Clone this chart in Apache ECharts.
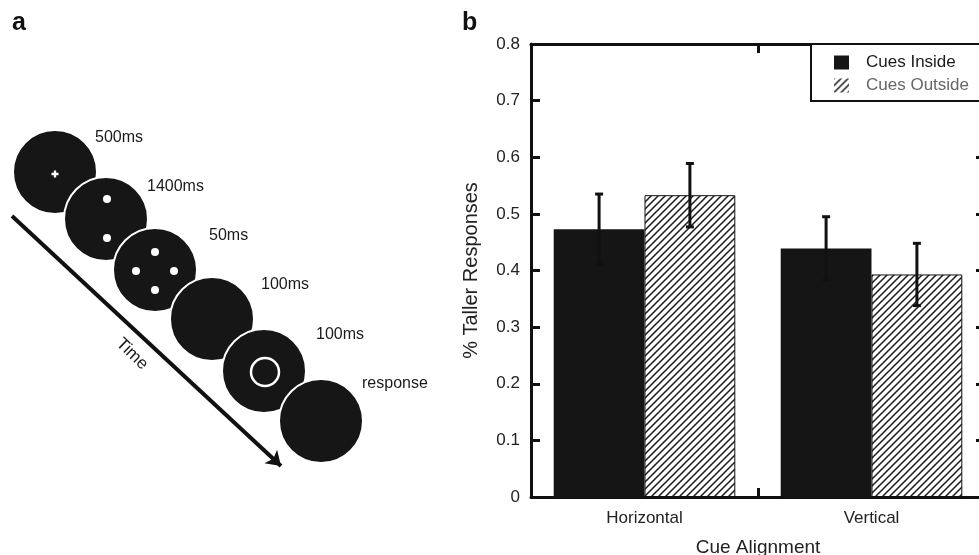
<!DOCTYPE html>
<html>
<head>
<meta charset="utf-8">
<script src="https://cdn.jsdelivr.net/npm/echarts@6/dist/echarts.min.js"></script>
<style>
  html, body { margin: 0; padding: 0; background: #fff; }
  #main { width: 979px; height: 555px; }
</style>
</head>
<body>
<div id="main"></div>
<script>
// panel b data
const categories = ['Horizontal', 'Vertical']
const insideValues = [0.473, 0.439]
const outsideValues = [0.533, 0.393]
const insideErr = [0.062, 0.056]
const outsideErr = [0.056, 0.055]
const yTicks = [0, 0.1, 0.2, 0.3, 0.4, 0.5, 0.6, 0.7, 0.8]

// panel a (trial sequence diagram, in picture units)
const frameX = [55, 106, 155, 212, 264, 321]
const frameY = [172, 219, 270, 319, 371, 421]
const frameText = ['500ms', '1400ms', '50ms', '100ms', '100ms', 'response']
const frameTextX = [95, 147, 209, 261, 316, 362]
const frameTextY = [138, 187, 236, 285, 335, 384]
const fixationPt = [[55, 174]]
const cueDots = [[107, 199], [107, 238], [155, 252], [136, 271], [174, 271], [155, 290]]
const targetRing = [[265, 372]]
const timeArrow = [[12, 216], [281, 466]]
const timeLabelPt = [[132, 354]]

const FONT = "'Liberation Sans', Arial, Helvetica, sans-serif"

// diagonal hatch
function makeHatch() {
  const c = document.createElement('canvas')
  c.width = 7
  c.height = 7
  const ctx = c.getContext('2d')
  ctx.fillStyle = '#fff'
  ctx.fillRect(0, 0, 7, 7)
  ctx.strokeStyle = '#1a1a1a'
  ctx.lineWidth = 1.5
  ctx.beginPath()
  ctx.moveTo(-1, 8); ctx.lineTo(8, -1)
  ctx.moveTo(-1, 1); ctx.lineTo(1, -1)
  ctx.moveTo(6, 8); ctx.lineTo(8, 6)
  ctx.stroke()
  return c
}
const hatch = { image: makeHatch(), repeat: 'repeat' }

const errData = []
insideValues.forEach((v, i) => errData.push([i, v - insideErr[i], v + insideErr[i], 0]))
outsideValues.forEach((v, i) => errData.push([i, v - outsideErr[i], v + outsideErr[i], 1]))

const chart = echarts.init(document.getElementById('main'))

const axisLine = { show: true, onZero: false, lineStyle: { color: '#111', width: 3 } }
const axisTick = { show: true, inside: true, length: 9, lineStyle: { color: '#111', width: 3 } }
const hiddenAxis = { show: false }
const panelText = { show: true, position: [0, 0], verticalAlign: 'middle', color: '#1a1a1a' }

chart.setOption({
  animation: false,
  textStyle: { fontFamily: FONT },
  title: [
    { text: 'a', left: 12, top: 11, padding: 0, textStyle: { fontFamily: FONT, fontSize: 25, fontWeight: 'bold', color: '#111' } },
    { text: 'b', left: 462, top: 11, padding: 0, textStyle: { fontFamily: FONT, fontSize: 25, fontWeight: 'bold', color: '#111' } }
  ],
  legend: {
    orient: 'vertical',
    left: 811,
    top: 44,
    padding: [10, 40, 7, 23],
    borderColor: '#111',
    borderWidth: 2,
    backgroundColor: '#fff',
    itemWidth: 15,
    itemHeight: 14,
    itemGap: 6,
    icon: 'rect',
    textStyle: { fontFamily: FONT, fontSize: 17, color: '#1a1a1a', padding: [0, 0, 0, 12] },
    data: [
      { name: 'Cues Inside' },
      { name: 'Cues Outside', itemStyle: { borderWidth: 0 }, textStyle: { color: '#666' } }
    ]
  },
  grid: [
    { left: 531, top: 44, width: 454, height: 453, outerBoundsMode: 'none', containLabel: false },
    { left: 0, top: 0, width: 460, height: 555, outerBoundsMode: 'none', containLabel: false }
  ],
  xAxis: [
    {
      type: 'category', gridIndex: 0, data: categories,
      axisLine, axisTick,
      axisLabel: { fontSize: 17, color: '#222', margin: 13 },
      name: 'Cue Alignment', nameLocation: 'middle', nameGap: 41,
      nameTextStyle: { fontSize: 19, color: '#222' }
    },
    {
      type: 'category', gridIndex: 0, data: categories, position: 'top',
      axisLine, axisTick, axisLabel: { show: false }
    },
    { type: 'value', gridIndex: 1, min: 0, max: 460, ...hiddenAxis }
  ],
  yAxis: [
    {
      type: 'value', gridIndex: 0, min: yTicks[0], max: yTicks[yTicks.length - 1], interval: 0.1,
      axisLine, axisTick, splitLine: { show: false },
      axisLabel: { fontSize: 17, color: '#222', margin: 11 },
      name: '% Taller Responses', nameLocation: 'middle', nameGap: 50,
      nameTextStyle: { fontSize: 20, color: '#222' }
    },
    {
      type: 'value', gridIndex: 0, position: 'right', min: 0, max: 0.8, interval: 0.1,
      axisLine, axisTick, splitLine: { show: false }, axisLabel: { show: false }
    },
    { type: 'value', gridIndex: 1, min: 0, max: 555, inverse: true, ...hiddenAxis }
  ],
  series: [
    {
      name: 'Cues Inside', type: 'bar', xAxisIndex: 0, yAxisIndex: 0,
      data: insideValues, barWidth: '40%', barGap: '0%',
      itemStyle: { color: '#151515' }
    },
    {
      name: 'Cues Outside', type: 'bar', xAxisIndex: 0, yAxisIndex: 0,
      data: outsideValues, barWidth: '40%', barGap: '0%',
      itemStyle: { color: hatch, borderColor: '#111', borderWidth: 1 }
    },
    {
      type: 'custom', xAxisIndex: 0, yAxisIndex: 0, z: 5, silent: true,
      data: errData,
      renderItem(params, api) {
        const band = api.size([1, 0])[0]
        const x = api.coord([api.value(0), 0])[0] + (api.value(3) ? 0.2 : -0.2) * band
        const lo = api.coord([api.value(0), api.value(1)])[1]
        const hi = api.coord([api.value(0), api.value(2)])[1]
        const st = { stroke: '#111', lineWidth: 3 }
        return {
          type: 'group',
          children: [
            { type: 'line', shape: { x1: x, y1: hi, x2: x, y2: lo }, style: st },
            { type: 'line', shape: { x1: x - 4, y1: hi, x2: x + 4, y2: hi }, style: st },
            { type: 'line', shape: { x1: x - 4, y1: lo, x2: x + 4, y2: lo }, style: st }
          ]
        }
      }
    },
    // panel a
    {
      type: 'lines', coordinateSystem: 'cartesian2d', xAxisIndex: 2, yAxisIndex: 2, silent: true,
      symbol: ['none', 'arrow'], symbolSize: [10, 14],
      lineStyle: { color: '#111', width: 4, opacity: 1 },
      data: [{ coords: timeArrow }]
    },
    {
      type: 'scatter', xAxisIndex: 2, yAxisIndex: 2, silent: true, z: 3,
      symbol: 'circle', symbolSize: 84,
      itemStyle: { color: '#161616', borderColor: '#fff', borderWidth: 2, opacity: 1 },
      data: frameX.map((x, i) => [x, frameY[i]])
    },
    {
      type: 'scatter', xAxisIndex: 2, yAxisIndex: 2, silent: true, z: 4,
      symbol: 'circle', symbolSize: 8,
      itemStyle: { color: '#fff', opacity: 1 },
      data: cueDots
    },
    {
      type: 'scatter', xAxisIndex: 2, yAxisIndex: 2, silent: true, z: 4,
      symbol: 'path://M2,0H4V2H6V4H4V6H2V4H0V2H2Z', symbolSize: 7,
      itemStyle: { color: '#fff', opacity: 1 },
      data: fixationPt
    },
    {
      type: 'scatter', xAxisIndex: 2, yAxisIndex: 2, silent: true, z: 4,
      symbol: 'circle', symbolSize: 28,
      itemStyle: { color: 'rgba(0,0,0,0)', borderColor: '#fff', borderWidth: 2.5, opacity: 1 },
      data: targetRing
    },
    {
      type: 'scatter', xAxisIndex: 2, yAxisIndex: 2, silent: true, z: 4,
      symbolSize: 0, itemStyle: { opacity: 1 },
      label: { ...panelText, align: 'left', fontSize: 16, formatter: p => p.value[2] },
      data: frameTextX.map((x, i) => [x, frameTextY[i], frameText[i]])
    },
    {
      type: 'scatter', xAxisIndex: 2, yAxisIndex: 2, silent: true, z: 4,
      symbolSize: 0, itemStyle: { opacity: 1 },
      label: { ...panelText, align: 'center', rotate: -44, fontSize: 17, formatter: 'Time' },
      data: timeLabelPt
    }
  ]
})
</script>
</body>
</html>
